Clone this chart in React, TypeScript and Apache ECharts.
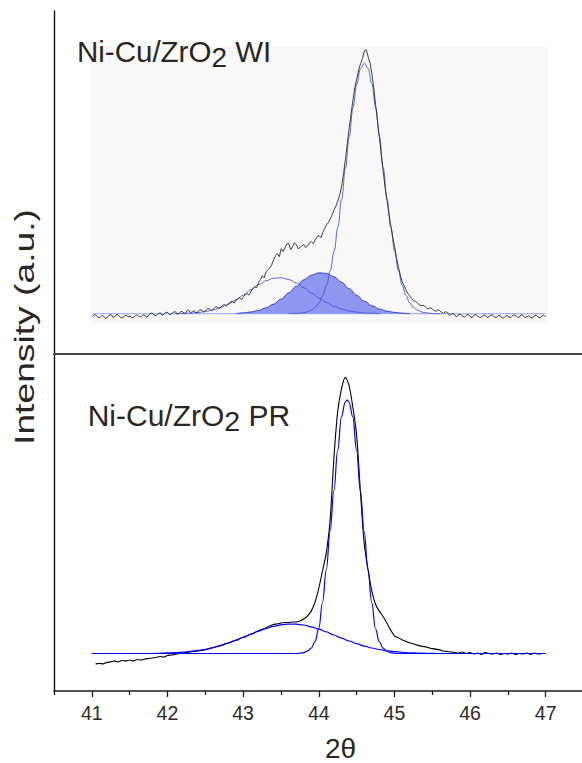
import React, { useEffect, useRef } from "react";
import * as echarts from "echarts";

// ---------- DATA ----------
// x-axis (2θ) tick values
const majorTicks = [41, 42, 43, 44, 45, 46, 47];
const minorTicks = [40.5, 41.5, 42.5, 43.5, 44.5, 45.5, 46.5];

// Top panel (WI): observed pattern, sampled from 41.000 every 0.025
const wiStart = 41.0;
const wiStep = 0.025;
const wiObserved = [
  -3, -1, -1.5, -3.5, -4, -2, -2.5, -4.5, -3.5, -1.5, -1, -3.5, -3, -0.5, -2, -4, -4, -2.5, -1.5, -3,
  -2.5, -4, -3.5, -1.5, -1.5, -3, -3, -1, -2, -3.5, -1, 0.5, 0.5, -2, -1.5, 0, 1, -1.5, -0.5, 1.5,
  1, -1, 0, 1.5, 2, -0.5, 0.5, 2.5, 1.5, 0, 2.5, 3.5, 1, 2, 3, 0.5, 2, 4, 3.5, 1.5,
  3, 5, 5, 3, 4.5, 6.5, 7, 5, 6.5, 8.5, 9, 7.5, 10, 11.5, 12.5, 10.5, 13.5, 15, 16, 14,
  17, 19.5, 20, 18.5, 22.5, 25, 27, 26, 31, 34, 38, 36, 42, 44, 46, 49, 54, 58, 60, 57,
  65, 62, 66, 70, 70, 64, 67, 71, 69, 65, 66, 68, 69, 66, 68, 71, 72, 70, 74, 77,
  78, 76, 81, 85, 89, 91, 95, 99, 104, 108, 113, 119, 128, 140, 155, 170, 186, 200, 214, 226,
  235, 244, 250, 255, 263, 264, 257, 251, 240, 226, 208, 192, 176, 158, 142, 126, 113, 100, 88, 77,
  67, 56, 47, 39, 32, 28, 24, 20, 18, 15, 13, 12.5, 11, 9, 8, 8.5, 7.5, 5.5, 5, 6,
  4.5, 3, 2.5, 4, 3, 1, 0.5, 2, 1, -1.5, -1, 0.5, -2, -3, -0.5, -1, -2.5, -3.5, -1.5, -0.5,
  -3, -4, -1.5, -1, -2.5, -3.5, -3.5, -1.5, -1.5, -3.5, -3, -1, -2, -3.5, -3.5, -2, -2, -4.5, -4, -2,
  -2.5, -4, -3, -1.5, -1.5, -3.5, -3.5, -1, -2, -4, -3, -2, -4, -4.5, -2, -1.5, -3.5, -4, -2.5, -1.5,
  -3.5,
];
// Top panel fitted components
const wiBaseX = [41.0, 47.0];
const wiBaseY = [0, 0];
const wiBroadX = [42.1, 42.2, 42.3, 42.4, 42.5, 42.6, 42.7, 42.8, 42.9, 43.0, 43.1, 43.2, 43.3, 43.4, 43.5, 43.6, 43.7, 43.8, 43.9, 44.0, 44.1, 44.2, 44.3, 44.4, 44.5, 44.6, 44.7, 44.8];
const wiBroadY = [0, 0.3, 0.6, 1.2, 2.2, 3.8, 6.2, 9.5, 13.7, 18.7, 24.0, 29.0, 33.0, 35.5, 35.9, 34.2, 30.8, 26.0, 20.8, 15.6, 11.1, 7.4, 4.6, 2.7, 1.5, 0.8, 0.4, 0];
const wiFilledX = [42.9, 43.0, 43.1, 43.2, 43.3, 43.4, 43.5, 43.6, 43.7, 43.8, 43.9, 44.0, 44.1, 44.2, 44.3, 44.4, 44.5, 44.6, 44.7, 44.8, 44.9, 45.0, 45.1, 45.2];
const wiFilledY = [0, 0.9, 1.7, 3.3, 5.9, 9.6, 14.7, 20.9, 27.5, 33.8, 38.5, 40.9, 40.3, 36.9, 31.4, 24.9, 18.3, 12.5, 8.0, 4.7, 2.6, 1.3, 0.6, 0];
const wiMainX = [43.6, 43.7, 43.8, 43.85, 43.9, 43.95, 44.0, 44.05, 44.1, 44.15, 44.2, 44.25, 44.3, 44.35, 44.4, 44.45, 44.5, 44.55, 44.6, 44.65, 44.7, 44.75, 44.8, 44.85, 44.9, 44.95, 45.0, 45.05, 45.1, 45.15, 45.2, 45.25, 45.3, 45.35, 45.4, 45.5, 45.6];
const wiMainY = [0, 0.3, 1.0, 1.9, 3.6, 6.4, 11.0, 18.2, 28.6, 43.2, 62.5, 86.6, 114.8, 145.7, 177.1, 206.2, 229.9, 245.3, 250.7, 245.3, 229.9, 206.2, 177.1, 145.7, 114.8, 86.6, 62.5, 43.2, 28.6, 18.2, 11.0, 6.4, 3.6, 1.9, 1.0, 0.2, 0];

// Bottom panel (PR): observed pattern, sampled from 41.05 every 0.05
const prStart = 41.05;
const prStep = 0.05;
const prObserved = [
  -10.5, -10, -10.5, -9, -8.5, -7.5, -8.5, -7, -7.5, -6.5,
  -7.5, -6, -6.5, -5.5, -5, -4.5, -4, -3, -3.5, -2,
  -1.5, -1, 0, 0.3, 1, 1.5, 2, 2.5, 3, 3.8,
  4.8, 5.8, 7, 8, 9.5, 10.5, 12, 13.5, 15, 16.5,
  18, 19.5, 21, 23, 24.5, 26, 28, 29.5, 30, 31,
  31.5, 31.5, 32, 32, 33, 35, 38, 43, 52, 66,
  84, 102, 135, 198, 245, 268, 280, 272, 250, 222,
  165, 112, 86, 64, 50, 43, 37.5, 31, 24, 18,
  16, 14, 12.5, 11, 10, 8.5, 7.5, 7, 6, 5,
  4.5, 3.7, 2.5, 2, 1.5, 1, 0.5, 1.5, 0, 1,
  -0.5, 0.5, -1, 1, 0, -0.5, 0.5, -1, 0, -0.5,
  0.5, -1, 0, -0.5, 0.5, -1, 0.5, -0.5, 0,
];
const prMainX = [41.0, 43.7, 43.75, 43.8, 43.85, 43.9, 43.95, 44.0, 44.05, 44.1, 44.15, 44.2, 44.25, 44.3, 44.35, 44.375, 44.4, 44.45, 44.5, 44.55, 44.6, 44.65, 44.7, 44.75, 44.8, 44.85, 44.9, 44.95, 45.0, 45.05, 47.0];
const prMainY = [0, 0, 0.3, 1, 2.5, 5.5, 12, 25, 52, 85, 124, 165, 206, 240, 255, 257, 255, 240, 206, 165, 124, 85, 52, 25, 12, 5.5, 2.5, 1, 0.3, 0, 0];
const prBroadX = [41.0, 41.8, 41.9, 42.0, 42.1, 42.2, 42.3, 42.4, 42.5, 42.6, 42.7, 42.8, 42.9, 43.0, 43.1, 43.2, 43.3, 43.4, 43.5, 43.6, 43.7, 43.8, 43.9, 44.0, 44.1, 44.2, 44.3, 44.4, 44.5, 44.6, 44.7, 44.8, 44.9, 45.0, 45.1, 45.2, 45.3, 45.4, 45.6, 47.0];
const prBroadY = [0, 0, 0.3, 0.6, 0.9, 1.4, 2.1, 3.1, 4.3, 6.0, 8.1, 10.5, 13.3, 16.3, 19.4, 22.5, 25.3, 27.5, 29.1, 29.9, 29.8, 28.9, 27.1, 24.7, 21.9, 18.8, 15.7, 12.7, 10.0, 7.6, 5.6, 4.1, 2.8, 1.9, 1.3, 0.8, 0.5, 0.3, 0, 0];

// Texts
const titleWI = "{a|Ni-Cu/ZrO}{b|2}{a| WI}";
const titlePR = "{a|Ni-Cu/ZrO}{b|2}{a| PR}";
const xName = "2θ";
const yName = "Intensity (a.u.)";

const FONT = '"Liberation Sans", Arial, Helvetica, sans-serif';
const TEXT_COLOR = "#2b2622";

const sampled = (start: number, step: number, ys: number[]) =>
  ys.map((y, i) => [+(start + i * step).toFixed(3), y]);
const paired = (xs: number[], ys: number[]) => xs.map((x, i) => [x, ys[i]]);

export default function App() {
  const ref = useRef<HTMLDivElement>(null);

  useEffect(() => {
    if (!ref.current) return;
    const chart = echarts.init(ref.current, null, { renderer: "svg" });

    const option: any = {
      animation: false,
      backgroundColor: "#ffffff",
      grid: [
        // outer frame of the upper panel (left axis + separator)
        { left: 54, top: 11, width: 528, height: 343 },
        // upper plot area (grey background)
        {
          left: 90,
          top: 47,
          width: 457.7,
          height: 276.3,
          show: true,
          backgroundColor: "#f8f8f8",
          borderWidth: 0,
        },
        // lower panel
        { left: 54, top: 354, width: 528, height: 341.7 },
      ],
      xAxis: [
        {
          gridIndex: 0,
          type: "value",
          min: 0,
          max: 1,
          position: "bottom",
          axisLine: { show: true, onZero: false, lineStyle: { color: "#444", width: 1.8 } },
          axisTick: { show: false },
          axisLabel: { show: false },
          splitLine: { show: false },
        },
        {
          gridIndex: 1,
          type: "value",
          min: 40.97,
          max: 47.026,
          show: false,
        },
        {
          gridIndex: 2,
          type: "value",
          min: 40.5,
          max: 47.48,
          position: "bottom",
          name: xName,
          nameLocation: "middle",
          nameGap: 43,
          nameTextStyle: {
            fontSize: 28,
            color: TEXT_COLOR,
            fontFamily: FONT,
            padding: [0, 0, 0, 45],
          },
          axisLine: { show: true, onZero: false, lineStyle: { color: "#1a1a1a", width: 1.5 } },
          axisTick: {
            show: true,
            inside: false,
            length: 6,
            customValues: majorTicks,
            lineStyle: { color: "#1a1a1a", width: 1.3 },
          },
          axisLabel: {
            show: true,
            customValues: majorTicks,
            margin: 12,
            fontSize: 19.5,
            color: "#2e2925",
            fontFamily: FONT,
          },
          splitLine: { show: false },
        },
        {
          gridIndex: 2,
          type: "value",
          min: 40.5,
          max: 47.48,
          position: "bottom",
          axisLine: { show: false, onZero: false },
          axisTick: {
            show: true,
            inside: false,
            length: 4,
            customValues: minorTicks,
            lineStyle: { color: "#1a1a1a", width: 1.3 },
          },
          axisLabel: { show: false },
          splitLine: { show: false },
        },
      ],
      yAxis: [
        {
          gridIndex: 0,
          type: "value",
          min: 0,
          max: 1,
          axisLine: { show: true, onZero: false, lineStyle: { color: "#111", width: 1.4 } },
          axisTick: { show: false },
          axisLabel: { show: false },
          splitLine: { show: false },
        },
        {
          gridIndex: 1,
          type: "value",
          min: -9.6,
          max: 266.7,
          show: false,
        },
        {
          gridIndex: 2,
          type: "value",
          min: -38,
          max: 303.7,
          axisLine: { show: true, onZero: false, lineStyle: { color: "#111", width: 1.4 } },
          axisTick: { show: false },
          axisLabel: { show: false },
          splitLine: { show: false },
        },
      ],
      series: [
        // ----- upper panel -----
        {
          name: "WI baseline",
          type: "line",
          xAxisIndex: 1,
          yAxisIndex: 1,
          data: paired(wiBaseX, wiBaseY),
          symbol: "none",
          lineStyle: { color: "#aab3f3", width: 1.2 },
          z: 2,
        },
        {
          name: "WI component 2",
          type: "line",
          xAxisIndex: 1,
          yAxisIndex: 1,
          data: paired(wiFilledX, wiFilledY),
          symbol: "none",
          smooth: 0.4,
          smoothMonotone: "x",
          lineStyle: { color: "#3237b8", width: 0.9 },
          areaStyle: { color: "#8e96f0", opacity: 1, origin: 0 },
          z: 3,
        },
        {
          name: "WI component 1",
          type: "line",
          xAxisIndex: 1,
          yAxisIndex: 1,
          data: paired(wiBroadX, wiBroadY),
          symbol: "none",
          smooth: 0.4,
          smoothMonotone: "x",
          lineStyle: { color: "#4a55dc", width: 0.9 },
          z: 4,
        },
        {
          name: "WI component 3",
          type: "line",
          xAxisIndex: 1,
          yAxisIndex: 1,
          data: paired(wiMainX, wiMainY),
          symbol: "none",
          smooth: 0.4,
          smoothMonotone: "x",
          lineStyle: { color: "#4550e0", width: 0.9 },
          z: 4,
        },
        {
          name: "WI observed",
          type: "line",
          xAxisIndex: 1,
          yAxisIndex: 1,
          data: sampled(wiStart, wiStep, wiObserved),
          symbol: "none",
          lineStyle: { color: "#2a2a2a", width: 0.9 },
          z: 5,
        },
        // ----- lower panel -----
        {
          name: "PR observed",
          type: "line",
          xAxisIndex: 2,
          yAxisIndex: 2,
          data: sampled(prStart, prStep, prObserved),
          symbol: "none",
          smooth: 0.3,
          lineStyle: { color: "#000000", width: 1.1 },
          z: 3,
        },
        {
          name: "PR component 1",
          type: "line",
          xAxisIndex: 2,
          yAxisIndex: 2,
          data: paired(prBroadX, prBroadY),
          symbol: "none",
          smooth: 0.4,
          smoothMonotone: "x",
          lineStyle: { color: "#0000ff", width: 1.2 },
          z: 4,
        },
        {
          name: "PR component 2",
          type: "line",
          xAxisIndex: 2,
          yAxisIndex: 2,
          data: paired(prMainX, prMainY),
          symbol: "none",
          smooth: 0.4,
          smoothMonotone: "x",
          lineStyle: { color: "#0000ff", width: 1.2 },
          z: 4,
        },
      ],
      graphic: [
        {
          type: "text",
          x: 77,
          y: 36.4,
          z: 10,
          style: {
            text: titleWI,
            fill: TEXT_COLOR,
            fontFamily: FONT,
            align: "left",
            verticalAlign: "top",
            rich: {
              a: { fontSize: 29.5, lineHeight: 30, verticalAlign: "top", fill: TEXT_COLOR, fontFamily: FONT },
              b: { fontSize: 28, lineHeight: 42, fill: TEXT_COLOR, fontFamily: FONT },
            },
          },
        },
        {
          type: "text",
          x: 87.7,
          y: 400.3,
          z: 10,
          style: {
            text: titlePR,
            fill: TEXT_COLOR,
            fontFamily: FONT,
            align: "left",
            verticalAlign: "top",
            rich: {
              a: { fontSize: 30, lineHeight: 30, verticalAlign: "top", fill: TEXT_COLOR, fontFamily: FONT },
              b: { fontSize: 28.5, lineHeight: 42, fill: TEXT_COLOR, fontFamily: FONT },
            },
          },
        },
        {
          type: "text",
          x: 25,
          y: 327,
          rotation: Math.PI / 2,
          scaleX: 1.38,
          z: 10,
          style: {
            text: yName,
            fill: TEXT_COLOR,
            fontFamily: FONT,
            fontSize: 27,
            align: "center",
            verticalAlign: "middle",
          },
        },
      ],
    };

    chart.setOption(option);
    return () => chart.dispose();
  }, []);

  return (
    <div
      ref={ref}
      style={{ position: "fixed", left: 0, top: 0, width: 582, height: 763 }}
    />
  );
}
